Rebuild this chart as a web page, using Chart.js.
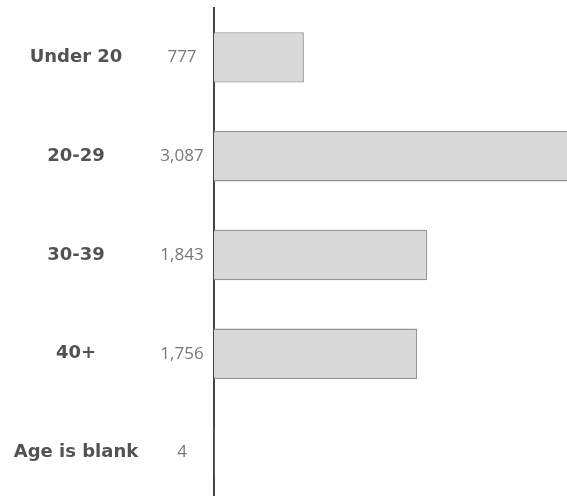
<!DOCTYPE html>
<html>
<head>
<meta charset="utf-8">
<script src="https://cdn.jsdelivr.net/npm/chart.js@4"></script>
<style>
  html, body { margin: 0; padding: 0; background: #fff; overflow: hidden; }
  #wrap { width: 567px; height: 502px; }
</style>
</head>
<body>
<div id="wrap"><canvas id="chart"></canvas></div>
<script>
const categories = ['Under 20', '20-29', '30-39', '40+', 'Age is blank'];
const counts = [777, 3087, 1843, 1756, 4];
const countLabels = ['777', '3,087', '1,843', '1,756', '4'];

// draw category names and counts to the left of the axis
const sideLabels = {
  id: 'sideLabels',
  afterDraw(chart) {
    const ctx = chart.ctx;
    const y = chart.scales.y;
    ctx.save();
    ctx.textBaseline = 'middle';
    ctx.textAlign = 'center';
    categories.forEach((c, i) => {
      const py = y.getPixelForValue(i);
      ctx.font = 'bold 18px "DejaVu Sans", sans-serif';
      ctx.fillStyle = '#525252';
      ctx.fillText(c, 76, py);
      ctx.font = '17px "Open Sans", sans-serif';
      ctx.fillStyle = '#777';
      ctx.fillText(countLabels[i], 182, py);
    });
    ctx.restore();
  }
};

new Chart(document.getElementById('chart'), {
  type: 'bar',
  data: {
    labels: categories,
    datasets: [{
      data: counts,
      backgroundColor: '#d9d9d9',
      borderColor: '#959595',
      borderWidth: 1.4,
      borderSkipped: 'left',
      barPercentage: 0.51,
      categoryPercentage: 1
    }]
  },
  options: {
    indexAxis: 'y',
    responsive: true,
    maintainAspectRatio: false,
    animation: false,
    layout: { padding: { left: 214, top: 8, right: 0, bottom: 0 } },
    plugins: {
      legend: { display: false },
      tooltip: { enabled: false }
    },
    scales: {
      x: {
        display: false,
        min: 0,
        max: 3052
      },
      y: {
        grid: { display: false },
        ticks: { display: false },
        border: { display: true, color: '#444', width: 2 },
        afterFit(scale) { scale.width = 0; }
      }
    }
  },
  plugins: [sideLabels]
});
</script>
</body>
</html>
